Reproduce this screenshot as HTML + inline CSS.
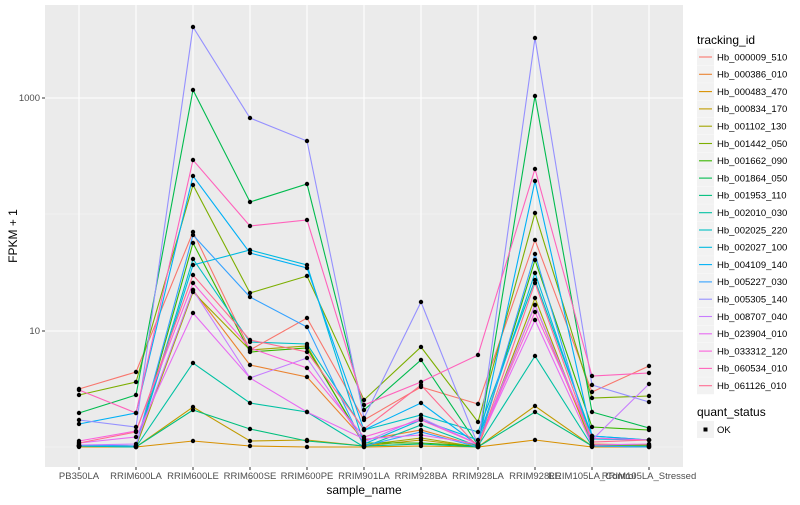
<!DOCTYPE html>
<html><head><meta charset="utf-8"><style>
body{margin:0;background:#fff;}
svg text{font-family:"Liberation Sans",sans-serif;}
</style></head><body>
<svg width="800" height="500" xmlns="http://www.w3.org/2000/svg" id="s">
<rect width="800" height="500" fill="#fff"/>
<rect x="45" y="5" width="638" height="462" fill="#EBEBEB"/>
<g stroke="#F5F5F5" stroke-width="0.6">
<line x1="45" x2="683" y1="447" y2="447"/><line x1="45" x2="683" y1="214" y2="214"/>
</g>
<g stroke="#fff" stroke-width="1.1">
<line x1="45" x2="683" y1="331" y2="331"/><line x1="45" x2="683" y1="98" y2="98"/>
<line x1="79" x2="79" y1="5" y2="467"/><line x1="136" x2="136" y1="5" y2="467"/><line x1="193" x2="193" y1="5" y2="467"/><line x1="250" x2="250" y1="5" y2="467"/><line x1="307" x2="307" y1="5" y2="467"/><line x1="364" x2="364" y1="5" y2="467"/><line x1="421" x2="421" y1="5" y2="467"/><line x1="478" x2="478" y1="5" y2="467"/><line x1="535" x2="535" y1="5" y2="467"/><line x1="592" x2="592" y1="5" y2="467"/><line x1="649" x2="649" y1="5" y2="467"/>
</g>
<g id="series"></g>
<g stroke="#333" stroke-width="1">
<line x1="42" x2="45" y1="331" y2="331"/><line x1="42" x2="45" y1="98" y2="98"/>
</g>
<g font-size="9.5" fill="#4D4D4D" text-anchor="end">
<text x="40" y="334">10</text><text x="40" y="101">1000</text>
</g>
<g font-size="9.5" fill="#4D4D4D" text-anchor="middle" id="xl"></g>
<text x="364" y="494" font-size="12" text-anchor="middle" fill="#000">sample_name</text>
<text transform="translate(17,236) rotate(-90)" font-size="12" text-anchor="middle" fill="#000">FPKM + 1</text>
<text x="697" y="44" font-size="12" fill="#000">tracking_id</text>
<g id="leg"></g>
<text x="697" y="416" font-size="12" fill="#000">quant_status</text>
<rect x="697" y="421" width="17" height="17" fill="#F2F2F2"/>
<rect x="703.5" y="427.5" width="4" height="4" fill="#000"/>
<text x="717" y="433" font-size="9.5" fill="#000">OK</text>
</svg>
<script>
var X=[79,136,193,250,307,364,421,478,535,592,649];
var names=["PB350LA","RRIM600LA","RRIM600LE","RRIM600SE","RRIM600PE","RRIM901LA","RRIM928BA","RRIM928LA","RRIM928LE","RRIM105LA_Control","RRIM105LA_Stressed"];
var cols=["#F8766D","#EA8331","#D89000","#C09B00","#A3A500","#7CAE00","#39B600","#00BB4E","#00BF7D","#00C1A3","#00BFC4","#00BAE0","#00B0F6","#35A2FF","#9590FF","#C77CFF","#E76BF3","#FA62DB","#FF62BC","#FF6C91"];
var ids=["Hb_000009_510","Hb_000386_010","Hb_000483_470","Hb_000834_170","Hb_001102_130","Hb_001442_050","Hb_001662_090","Hb_001864_050","Hb_001953_110","Hb_002010_030","Hb_002025_220","Hb_002027_100","Hb_004109_140","Hb_005227_030","Hb_005305_140","Hb_008707_040","Hb_023904_010","Hb_033312_120","Hb_060534_010","Hb_061126_010"];
var D=[
[389,372,232,350,318,420,387,404,240,392,366],
[445,446,290,365,377,440,430,446,305,444,445],
[447,447,441,446,447,447,446,447,440,447,447],
[446,447,407,441,440,446,440,447,406,446,446],
[446,447,292,350,346,445,438,447,298,445,445],
[395,382,185,293,276,400,347,422,213,398,396],
[446,446,243,352,348,443,443,446,260,427,430],
[413,395,90,202,184,410,360,445,96,412,428],
[446,447,410,429,441,446,444,447,412,446,446],
[446,447,363,403,412,447,425,446,356,446,447],
[446,446,259,342,344,430,415,432,280,436,440],
[446,446,265,250,265,444,420,440,273,439,440],
[424,413,176,253,268,430,403,445,181,436,440],
[445,446,235,297,327,446,432,447,254,446,447],
[420,427,27,118,141,418,302,445,38,385,402],
[445,444,290,378,358,442,418,444,305,440,384],
[443,437,313,378,412,439,435,444,320,445,444],
[441,431,283,348,368,437,420,444,312,438,440],
[390,413,160,226,220,405,382,355,169,376,373],
[443,432,275,340,352,429,385,447,283,442,440]];
var g=document.getElementById("series"),h="",p="";
D.forEach(function(r,i){h+='<polyline fill="none" stroke-width="1.1" stroke="'+cols[i]+'" points="'+r.map(function(y,j){return X[j]+","+y}).join(" ")+'"/>';
r.forEach(function(y,j){p+='<circle cx="'+X[j]+'" cy="'+y+'" r="2.2" fill="#000"/>';});});
g.innerHTML=h+p;
var xl="";names.forEach(function(n,j){xl+='<line x1="'+X[j]+'" x2="'+X[j]+'" y1="467" y2="470" stroke="#333"/><text x="'+X[j]+'" y="479">'+n+'</text>';});
document.getElementById("xl").innerHTML=xl;
var l="";ids.forEach(function(n,i){var cy=57+i*17.3;l+='<rect x="697" y="'+(cy-8.5)+'" width="17" height="17" fill="#F2F2F2"/><line x1="699" x2="712" y1="'+cy+'" y2="'+cy+'" stroke="'+cols[i]+'" stroke-width="1.1"/><text x="717" y="'+(cy+3.3)+'" font-size="9.5" fill="#000">'+n+'</text>';});
document.getElementById("leg").innerHTML=l;
</script>
</body></html>
